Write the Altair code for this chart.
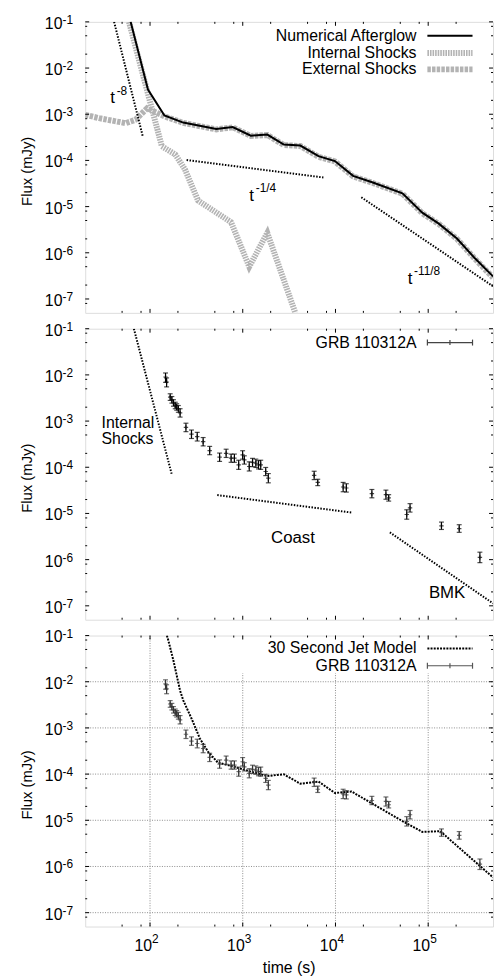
import altair as alt
import pandas as pd

W, H = 412, 294
XDOM = [20, 5e5]
YDOM = [5e-8, 0.1]

# ---------------- data ----------------
# Panel 1: numerical afterglow (black solid)
ag_t = [61.8, 95, 143, 228, 518, 780, 1222, 1840, 2773, 4180, 6560, 9860, 15500,
        25300, 52800, 86300, 130000, 204000, 319000, 500000]
ag_f = [0.1, 3.43e-3, 9.4e-4, 6.6e-4, 4.78e-4, 5.27e-4, 3.44e-4, 3.62e-4, 2.21e-4,
        2.1e-4, 1.24e-4, 9.7e-5, 4.63e-5, 3.33e-5, 1.94e-5, 7.4e-6, 4.28e-6, 2.04e-6,
        7.6e-7, 3.08e-7]
# internal shocks (grey, steep)
is_t = [59.3, 96.8, 134, 187, 238, 330, 748, 1175, 1840, 3690]
is_f = [0.1, 2.4e-3, 2.03e-4, 1.35e-4, 6.4e-5, 1.35e-5, 4.6e-6, 5.0e-7, 2.7e-6, 5.0e-8]
# external shocks (grey)
es_t = [20, 28.4, 54.7, 69.8, 93, 143, 228, 518, 780, 1222, 1840, 2773, 4180, 6560,
        9860, 15500, 25300, 52800, 86300, 130000, 204000, 319000, 500000]
es_f = [9.7e-4, 8.2e-4, 6.4e-4, 7.6e-4, 1.35e-3, 9.0e-4, 6.5e-4, 4.7e-4, 5.2e-4,
        3.4e-4, 3.55e-4, 2.15e-4, 2.05e-4, 1.2e-4, 9.5e-5, 4.5e-5, 3.25e-5, 1.9e-5,
        7.2e-6, 4.2e-6, 2.0e-6, 7.4e-7, 2.9e-7]
# power-law guides, panel 1
pl8_t, pl8_f = [41, 83.6], [0.1, 3.3e-4]
pl14_t, pl14_f = [248, 7410], [1.02e-4, 4.27e-5]
pl118_t, pl118_f = [19000, 500000], [1.59e-5, 1.88e-7]

# Panel 2 guides
is2_t, is2_f = [67, 172], [0.1, 6.9e-5]
coast_t, coast_f = [531, 15200], [2.5e-5, 1.04e-5]
bmk_t, bmk_f = [38600, 500000], [3.89e-6, 1.13e-7]

# GRB 110312A observations
grb_t = [147, 151, 165, 172, 179, 187, 194, 202, 211, 244, 280, 323, 374, 440, 563,
         662, 749, 813, 904, 997, 1040, 1175, 1275, 1384, 1479, 1563, 1768, 1888,
         5890, 6440, 12100, 13100, 24700, 35000, 37500, 58700, 63700, 139000,
         216000, 361000]
grb_f = [9.0e-3, 7.0e-3, 3.3e-3, 2.9e-3, 2.46e-3, 2.18e-3, 2.02e-3, 1.85e-3, 1.5e-3,
         7.3e-4, 5.2e-4, 4.6e-4, 3.58e-4, 2.3e-4, 1.65e-4, 2.0e-4, 1.57e-4, 1.57e-4,
         1.13e-4, 1.85e-4, 1.44e-4, 1.04e-4, 1.27e-4, 1.22e-4, 1.13e-4, 1.13e-4,
         8.1e-5, 5.8e-5, 6.7e-5, 4.7e-5, 3.74e-5, 3.56e-5, 2.68e-5, 2.56e-5, 2.17e-5,
         9.5e-6, 1.32e-5, 5.4e-6, 4.7e-6, 1.12e-6]
grb_lo = [6.9e-3, 5.5e-3, 2.8e-3, 2.45e-3, 2.1e-3, 1.85e-3, 1.72e-3, 1.55e-3, 1.22e-3,
          5.9e-4, 4.2e-4, 3.7e-4, 2.9e-4, 1.87e-4, 1.34e-4, 1.63e-4, 1.28e-4, 1.28e-4,
          9.0e-5, 1.5e-4, 1.17e-4, 8.3e-5, 1.03e-4, 9.9e-5, 9.2e-5, 9.0e-5, 6.6e-5,
          4.6e-5, 5.4e-5, 4.0e-5, 2.95e-5, 2.9e-5, 2.18e-5, 2.03e-5, 1.85e-5, 7.5e-6,
          1.07e-5, 4.5e-6, 3.9e-6, 8.6e-7]
grb_hi = [1.1e-2, 8.6e-3, 3.9e-3, 3.4e-3, 2.9e-3, 2.56e-3, 2.37e-3, 2.17e-3, 1.85e-3,
          9.0e-4, 6.4e-4, 5.7e-4, 4.4e-4, 2.83e-4, 2.03e-4, 2.46e-4, 1.93e-4, 1.93e-4,
          1.42e-4, 2.28e-4, 1.77e-4, 1.31e-4, 1.56e-4, 1.5e-4, 1.39e-4, 1.42e-4, 9.9e-5,
          7.3e-5, 8.2e-5, 5.5e-5, 4.7e-5, 4.4e-5, 3.3e-5, 3.2e-5, 2.55e-5, 1.2e-5,
          1.63e-5, 6.5e-6, 5.7e-6, 1.45e-6]

# Panel 3: 30 second jet model
jet_t = [152, 158, 179, 211, 229, 281, 345, 423, 540, 748, 1222, 1840, 2773, 4180,
         6560, 9860, 14900, 24300, 52800, 86300, 135000, 204000, 500000]
jet_f = [0.1, 7.7e-2, 2.85e-2, 6.4e-3, 3.9e-3, 1.58e-3, 5.9e-4, 3.04e-4, 1.77e-4,
         1.5e-4, 1.13e-4, 9.1e-5, 9.9e-5, 6.2e-5, 6.9e-5, 3.9e-5, 4.2e-5, 2.37e-5,
         9.6e-6, 5.6e-6, 5.8e-6, 2.8e-6, 5.8e-7]

# ticks and labels
x_major = [100, 1000, 10000, 100000]
x_major_exp = ["2", "3", "4", "5"]
x_minor = [50, 80, 200, 500, 800, 2000, 5000, 8000, 20000, 50000, 80000, 200000]
y_major = [1e-1, 1e-2, 1e-3, 1e-4, 1e-5, 1e-6, 1e-7]
y_major_exp = ["-1", "-2", "-3", "-4", "-5", "-6", "-7"]
y_minor = [8e-2, 5e-2, 2e-2, 8e-3, 5e-3, 2e-3, 8e-4, 5e-4, 2e-4, 8e-5, 5e-5, 2e-5,
           8e-6, 5e-6, 2e-6, 8e-7, 5e-7, 2e-7, 8e-8]

# annotations
p1_ann_t = [37.2, 1178, 60000]
p1_ann_f = [1.71e-3, 1.33e-5, 2.07e-7]
p1_ann_base = ["t", "t", "t"]
p1_ann_exp = ["-8", "-1/4", "-11/8"]
p2_ann_t = [30, 30, 3480, 160000]
p2_ann_f = [7.2e-4, 3.18e-4, 2.25e-6, 1.49e-7]
p2_ann_text = ["Internal", "Shocks", "Coast", "BMK"]
p2_ann_align = ["left", "left", "center", "center"]

FONT = "Liberation Sans"
GREY = "#b3b3b3"
LEG = 16
TXT = 17

xs = alt.Scale(type="log", domain=XDOM, nice=False)
ys = alt.Scale(type="log", domain=YDOM, nice=False)


def X(f):
    return alt.X(f, type="quantitative", scale=xs, axis=None)


def Y(f):
    return alt.Y(f, type="quantitative", scale=ys, axis=None)


def one():
    return pd.DataFrame({"a": [0]})


def line(ts, fs, color, width, dash=None):
    df = pd.DataFrame({"t": ts, "f": fs})
    kw = dict(color=color, strokeWidth=width, clip=True)
    if dash:
        kw["strokeDash"] = dash
    return alt.Chart(df).mark_line(**kw).encode(x=X("t"), y=Y("f"))


def ticks():
    out = []
    for vals, L in [(x_major, 4), (x_minor, 2)]:
        df = pd.DataFrame({"v": vals})
        out.append(alt.Chart(df).mark_rule(color="black", strokeWidth=1).encode(
            x=X("v"), y=alt.value(H), y2=alt.value(H - L)))
        out.append(alt.Chart(df).mark_rule(color="black", strokeWidth=1).encode(
            x=X("v"), y=alt.value(0), y2=alt.value(L)))
    for vals, L in [(y_major, 4), (y_minor, 2)]:
        df = pd.DataFrame({"v": vals})
        out.append(alt.Chart(df).mark_rule(color="black", strokeWidth=1).encode(
            y=Y("v"), x=alt.value(0), x2=alt.value(L)))
        out.append(alt.Chart(df).mark_rule(color="black", strokeWidth=1).encode(
            y=Y("v"), x=alt.value(W), x2=alt.value(W - L)))
    return out


def ylabels():
    df = pd.DataFrame({"v": y_major, "e": y_major_exp})
    base = alt.Chart(df).mark_text(align="right", baseline="middle", fontSize=16,
                                   dy=2, font=FONT).encode(
        y=Y("v"), x=alt.value(-23), text=alt.value("10"))
    exp = alt.Chart(df).mark_text(align="left", baseline="middle", fontSize=12,
                                  dy=-2, font=FONT).encode(
        y=Y("v"), x=alt.value(-23), text=alt.Text("e:N"))
    title = alt.Chart(pd.DataFrame({"s": ["Flux (mJy)"]})).mark_text(
        angle=270, align="center", baseline="middle", fontSize=15, font=FONT).encode(
        x=alt.value(-59), y=alt.value(H / 2 + 4), text=alt.Text("s:N"))
    return [base, exp, title]


def xlabels():
    df = pd.DataFrame({"v": x_major, "e": x_major_exp})
    base = alt.Chart(df).mark_text(align="right", baseline="middle", fontSize=16,
                                   dx=2, font=FONT).encode(
        x=X("v"), y=alt.value(H + 20), text=alt.value("10"))
    exp = alt.Chart(df).mark_text(align="left", baseline="middle", fontSize=12,
                                  dx=2, font=FONT).encode(
        x=X("v"), y=alt.value(H + 13), text=alt.Text("e:N"))
    title = alt.Chart(pd.DataFrame({"s": ["time (s)"]})).mark_text(
        align="center", baseline="middle", fontSize=16, font=FONT).encode(
        x=alt.value(W / 2), y=alt.value(H + 42), text=alt.Text("s:N"))
    return [base, exp, title]


def legend_text(label, ypix):
    return alt.Chart(pd.DataFrame({"s": [label]})).mark_text(
        align="right", baseline="middle", fontSize=LEG, font=FONT).encode(
        x=alt.value(334.7), y=alt.value(ypix), text=alt.Text("s:N"))


def legend_line(ypix, color, width, dash=None):
    kw = dict(color=color, strokeWidth=width)
    if dash:
        kw["strokeDash"] = dash
    return alt.Chart(one()).mark_rule(**kw).encode(
        x=alt.value(345.7), x2=alt.value(391.3), y=alt.value(ypix))


def legend_errbar(ypix, color):
    c = color
    return [
        alt.Chart(one()).mark_rule(color=c, strokeWidth=1.2).encode(
            x=alt.value(345.7), x2=alt.value(391.3), y=alt.value(ypix)),
        alt.Chart(one()).mark_rule(color=c, strokeWidth=1.2).encode(
            x=alt.value(345.7), y=alt.value(ypix - 3), y2=alt.value(ypix + 3)),
        alt.Chart(one()).mark_rule(color=c, strokeWidth=1.2).encode(
            x=alt.value(391.3), y=alt.value(ypix - 3), y2=alt.value(ypix + 3)),
        alt.Chart(one()).mark_rule(color=c, strokeWidth=1.2).encode(
            x=alt.value(368.5), y=alt.value(ypix - 2.5), y2=alt.value(ypix + 2.5)),
    ]


def errorbars(color):
    df = pd.DataFrame({"t": grb_t, "f": grb_f, "lo": grb_lo, "hi": grb_hi})
    bar = alt.Chart(df).mark_rule(color=color, strokeWidth=1.2).encode(
        x=X("t"), y=Y("lo"), y2=alt.Y2("hi"))
    cap_lo = alt.Chart(df).mark_tick(color=color, orient="horizontal", size=5,
                                     thickness=1.2).encode(x=X("t"), y=Y("lo"))
    cap_hi = alt.Chart(df).mark_tick(color=color, orient="horizontal", size=5,
                                     thickness=1.2).encode(x=X("t"), y=Y("hi"))
    pt = alt.Chart(df).mark_point(shape="M-1,0L1,0M0,-1L0,1", size=20, filled=False,
                                  color=color, strokeWidth=1.2).encode(
        x=X("t"), y=Y("f"))
    return [bar, cap_lo, cap_hi, pt]


DOT = [1.5, 1.5]

# ---------------- panel 1 ----------------
ann1 = pd.DataFrame({"t": p1_ann_t, "f": p1_ann_f, "b": p1_ann_base, "e": p1_ann_exp})
p1_layers = [
    line(es_t, es_f, GREY, 6, [3.5, 1.2]),
    line(is_t, is_f, GREY, 6, [1.6, 1.0]),
    line(ag_t, ag_f, "black", 2),
    line(pl8_t, pl8_f, "black", 2, DOT),
    line(pl14_t, pl14_f, "black", 2, DOT),
    line(pl118_t, pl118_f, "black", 2, DOT),
    alt.Chart(ann1).mark_text(align="left", baseline="alphabetic", fontSize=TXT,
                              font=FONT).encode(x=X("t"), y=Y("f"), text="b:N"),
    alt.Chart(ann1).mark_text(align="left", baseline="alphabetic", fontSize=12,
                              dx=6.5, dy=-9, font=FONT).encode(x=X("t"), y=Y("f"), text="e:N"),
    legend_text("Numerical Afterglow", 14),
    legend_line(14, "black", 2),
    legend_text("Internal Shocks", 31.4),
    legend_line(31.4, GREY, 6, [1.6, 1.0]),
    legend_text("External Shocks", 48),
    legend_line(48, GREY, 6, [3.5, 1.2]),
] + ticks() + ylabels()
p1 = alt.layer(*p1_layers).properties(width=W, height=H)

# ---------------- panel 2 ----------------
ann2 = pd.DataFrame({"t": p2_ann_t, "f": p2_ann_f, "s": p2_ann_text, "al": p2_ann_align})
p2_layers = [
    line(is2_t, is2_f, "black", 2, DOT),
    line(coast_t, coast_f, "black", 2, DOT),
    line(bmk_t, bmk_f, "black", 2, DOT),
] + errorbars("black") + [
    alt.Chart(ann2[ann2["al"] == "left"]).mark_text(
        align="left", baseline="alphabetic", fontSize=LEG, font=FONT).encode(
        x=X("t"), y=Y("f"), text="s:N"),
    alt.Chart(ann2[ann2["al"] == "center"]).mark_text(
        align="center", baseline="alphabetic", fontSize=TXT, font=FONT).encode(
        x=X("t"), y=Y("f"), text="s:N"),
    legend_text("GRB 110312A", 14),
] + legend_errbar(14, "#444444") + ticks() + ylabels()
p2 = alt.layer(*p2_layers).properties(width=W, height=H)

# ---------------- panel 3 ----------------
gx = pd.DataFrame({"v": x_major})
gy = pd.DataFrame({"v": y_major[1:]})
grid = [
    alt.Chart(gx).mark_rule(color="#8c8c8c", strokeWidth=1, strokeDash=[1, 1.5]).encode(
        x=X("v"), y=alt.value(0), y2=alt.value(H)),
    alt.Chart(gy).mark_rule(color="#8c8c8c", strokeWidth=1, strokeDash=[1, 1.5]).encode(
        y=Y("v"), x=alt.value(0), x2=alt.value(W)),
    alt.Chart(one()).mark_rect(color="white").encode(
        x=alt.value(150), x2=alt.value(W - 2), y=alt.value(2), y2=alt.value(38)),
]
p3_layers = grid + [
    line(jet_t, jet_f, "black", 2, [2, 1.2]),
] + errorbars("#333333") + [
    legend_text("30 Second Jet Model", 13),
    legend_line(13, "black", 2, [2, 1.2]),
    legend_text("GRB 110312A", 30.5),
] + legend_errbar(30.5, "#555555") + ticks() + ylabels() + xlabels()
p3 = alt.layer(*p3_layers).properties(width=W, height=H)

chart = alt.vconcat(p1, p2, p3, spacing=16, bounds="flush").properties(
    padding={"left": 11, "top": 0, "right": 0, "bottom": 0}
).configure_view(stroke="black", strokeWidth=1.6).configure(font=FONT)

chart.save("out.html", embed_options={"renderer": "svg", "actions": False})
